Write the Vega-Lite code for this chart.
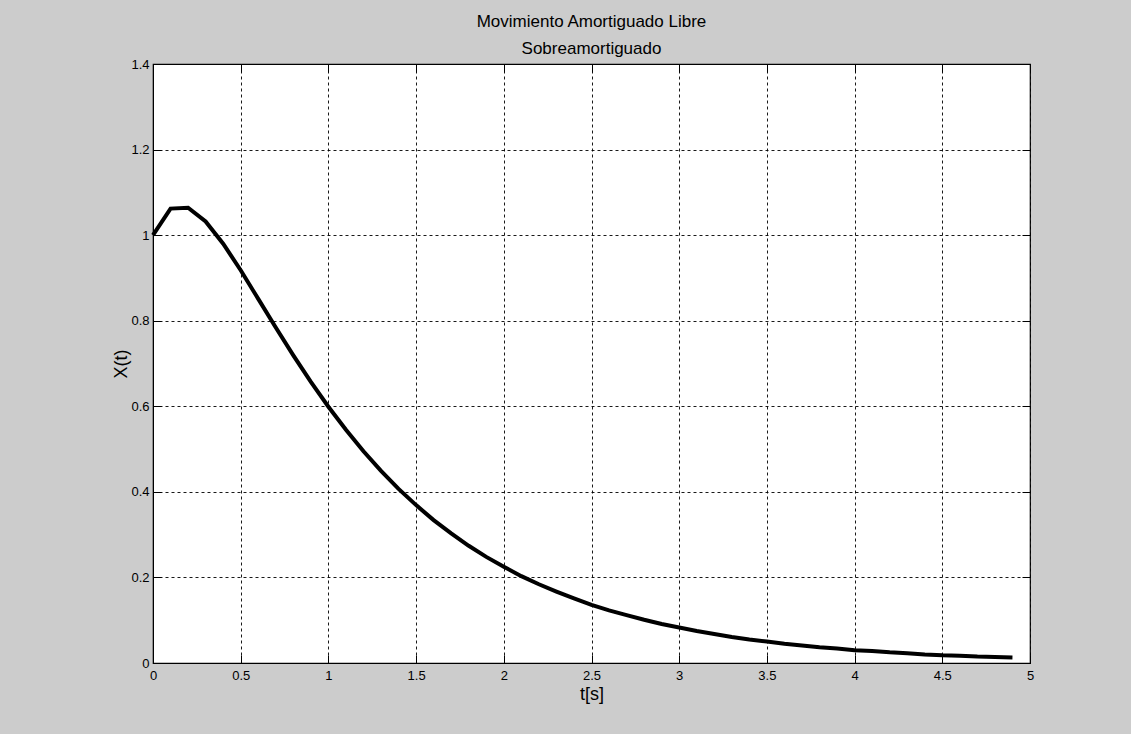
{
  "$schema": "https://vega.github.io/schema/vega-lite/v6.json",
  "width": 877,
  "height": 599,
  "autosize": {"type": "none"},
  "padding": {"left": 153, "top": 64, "right": 101, "bottom": 71},
  "background": "#cccccc",
  "title": {
    "text": ["Movimiento Amortiguado Libre", "Sobreamortiguado"],
    "anchor": "middle",
    "font": "Liberation Sans",
    "fontSize": 17,
    "fontWeight": "normal",
    "lineHeight": 27,
    "baseline": "bottom",
    "offset": -17,
    "color": "black"
  },
  "config": {
    "view": {"fill": "white", "stroke": "black", "strokeWidth": 1.2},
    "axis": {
      "domainColor": "black",
      "tickColor": "black",
      "tickSize": -8,
      "labelColor": "black",
      "labelFont": "Liberation Sans",
      "labelFontSize": 13,
      "labelFlush": false,
      "labelOverlap": false,
      "gridColor": "black",
      "gridDash": [3, 3],
      "gridWidth": 1,
      "gridOpacity": 0.9,
      "titleColor": "black",
      "titleFont": "Liberation Sans",
      "titleFontSize": 18,
      "titleFontWeight": "normal"
    }
  },
  "data": {
    "values": [
      {"t": 0.0, "x": 1.0},
      {"t": 0.1, "x": 1.062},
      {"t": 0.2, "x": 1.064},
      {"t": 0.3, "x": 1.032},
      {"t": 0.4, "x": 0.98},
      {"t": 0.5, "x": 0.918},
      {"t": 0.6, "x": 0.851},
      {"t": 0.7, "x": 0.784},
      {"t": 0.8, "x": 0.719},
      {"t": 0.9, "x": 0.657},
      {"t": 1.0, "x": 0.599},
      {"t": 1.1, "x": 0.545},
      {"t": 1.2, "x": 0.495},
      {"t": 1.3, "x": 0.449},
      {"t": 1.4, "x": 0.407},
      {"t": 1.5, "x": 0.369},
      {"t": 1.6, "x": 0.334},
      {"t": 1.7, "x": 0.303},
      {"t": 1.8, "x": 0.274},
      {"t": 1.9, "x": 0.248},
      {"t": 2.0, "x": 0.225},
      {"t": 2.1, "x": 0.203},
      {"t": 2.2, "x": 0.184},
      {"t": 2.3, "x": 0.167},
      {"t": 2.4, "x": 0.151},
      {"t": 2.5, "x": 0.136},
      {"t": 2.6, "x": 0.123},
      {"t": 2.7, "x": 0.112},
      {"t": 2.8, "x": 0.101},
      {"t": 2.9, "x": 0.091},
      {"t": 3.0, "x": 0.083},
      {"t": 3.1, "x": 0.075},
      {"t": 3.2, "x": 0.068},
      {"t": 3.3, "x": 0.061},
      {"t": 3.4, "x": 0.055},
      {"t": 3.5, "x": 0.05},
      {"t": 3.6, "x": 0.045},
      {"t": 3.7, "x": 0.041},
      {"t": 3.8, "x": 0.037},
      {"t": 3.9, "x": 0.034},
      {"t": 4.0, "x": 0.03},
      {"t": 4.1, "x": 0.028},
      {"t": 4.2, "x": 0.025},
      {"t": 4.3, "x": 0.023},
      {"t": 4.4, "x": 0.02},
      {"t": 4.5, "x": 0.018},
      {"t": 4.6, "x": 0.017},
      {"t": 4.7, "x": 0.015},
      {"t": 4.8, "x": 0.014},
      {"t": 4.9, "x": 0.013}
    ]
  },
  "layer": [
    {
      "mark": {"type": "line", "color": "black", "strokeWidth": 4},
      "encoding": {
        "x": {
          "field": "t", "type": "quantitative",
          "scale": {"domain": [0, 5], "nice": false, "zero": false},
          "axis": {
            "orient": "bottom",
            "values": [0, 0.5, 1, 1.5, 2, 2.5, 3, 3.5, 4, 4.5, 5],
            "format": "~g",
            "labelPadding": 14,
            "title": "t[s]",
            "titlePadding": 3
          }
        },
        "y": {
          "field": "x", "type": "quantitative",
          "scale": {"domain": [0, 1.4], "nice": false},
          "axis": {
            "orient": "left",
            "values": [0, 0.2, 0.4, 0.6, 0.8, 1, 1.2, 1.4],
            "format": "~g",
            "labelPadding": 12,
            "title": "X(t)",
            "titlePadding": 0
          }
        }
      }
    },
    {
      "mark": {"type": "line", "opacity": 0},
      "encoding": {
        "x": {
          "field": "t", "type": "quantitative",
          "axis": {
            "orient": "top",
            "values": [0, 0.5, 1, 1.5, 2, 2.5, 3, 3.5, 4, 4.5, 5],
            "labels": false, "grid": false, "domain": false, "title": null
          }
        },
        "y": {
          "field": "x", "type": "quantitative",
          "axis": {
            "orient": "right",
            "values": [0, 0.2, 0.4, 0.6, 0.8, 1, 1.2, 1.4],
            "labels": false, "grid": false, "domain": false, "title": null
          }
        }
      }
    }
  ],
  "resolve": {"axis": {"x": "independent", "y": "independent"}}
}
